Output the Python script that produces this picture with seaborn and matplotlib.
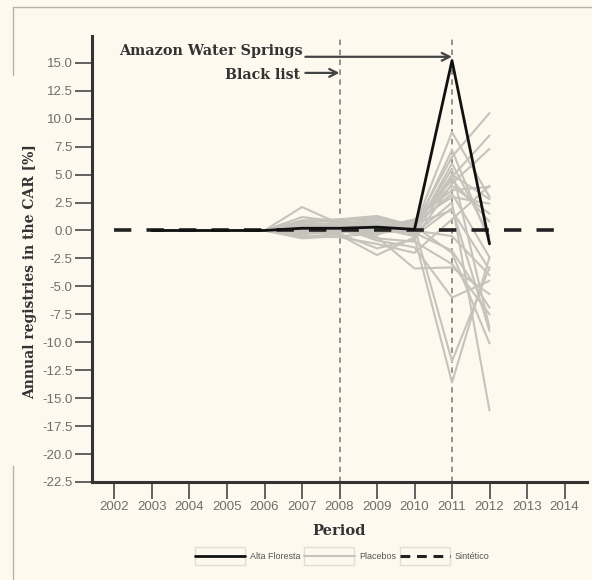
import numpy as np
import pandas as pd
import seaborn as sns
import matplotlib.pyplot as plt
from matplotlib.lines import Line2D
from matplotlib.patches import Rectangle

# ---- data -----------------------------------------------------------------
years_all = list(range(2002, 2015))
synthetic = [0.0] * len(years_all)

alta_years = list(range(2003, 2013))
alta_values = [0.0, 0.0, 0.0, 0.0, 0.2, 0.2, 0.3, 0.1, 15.2, -1.2]

placebo_years = list(range(2003, 2013))
placebo_start = [0.0, 0.0, 0.0, 0.0]          # 2003-2006
placebo_tail = [                               # 2007-2012
    [2.1, 0.6, 0.4, 0.3, 8.8, 3.0],
    [0.9, 1.0, 1.3, 0.4, 6.6, 10.5],
    [0.5, 0.4, 1.0, -0.4, 4.8, 8.5],
    [-0.6, -0.3, -1.6, -0.8, 4.2, 7.3],
    [0.3, 0.7, 0.2, 1.0, 3.6, 3.9],
    [-0.3, 0.2, -0.6, -3.4, -3.3, -5.7],
    [0.6, -0.4, -2.2, -0.6, -13.6, -2.4],
    [0.2, 0.5, 0.5, -0.3, 2.5, -16.1],
    [-0.7, -0.5, -0.3, 0.4, -2.0, -10.1],
    [0.4, 0.1, 0.8, 0.6, 1.8, -3.5],
    [1.2, 0.8, 0.6, 0.2, 5.5, -8.7],
    [0.1, -0.2, 0.3, 0.8, 3.0, 2.4],
    [-0.4, 0.3, -0.9, -1.5, -6.0, -4.5],
    [0.7, 0.9, 1.1, 0.1, 7.2, -1.0],
    [-0.2, -0.1, 0.0, -0.2, -1.8, -6.9],
    [0.3, 0.2, -0.4, 0.9, 4.0, 1.5],
    [0.0, 0.4, 0.6, 0.3, -11.7, -3.3],
    [-0.5, -0.6, -1.2, -2.0, 1.0, 4.0],
    [0.8, 0.3, 0.2, -0.1, 6.0, -0.5],
    [0.2, 0.6, 0.9, 0.5, 3.3, -2.4],
    [-0.1, 0.0, -0.7, -1.0, -3.0, -7.5],
    [0.5, 0.7, 0.4, 0.7, 4.5, 0.8],
    [-0.3, -0.2, 0.2, -0.5, 2.0, -9.0],
    [0.4, 0.5, 1.2, 0.2, 5.0, 2.8],
    [0.1, 0.1, -0.2, 0.0, -0.5, -4.0],
]

event_years = [2008, 2011]
y_ticks = [15.0, 12.5, 10.0, 7.5, 5.0, 2.5, 0.0, -2.5, -5.0, -7.5, -10.0,
           -12.5, -15.0, -17.5, -20.0, -22.5]
y_tick_labels = [f"{v:.1f}" for v in y_ticks]

# ---- frames ---------------------------------------------------------------
placebo_df = pd.DataFrame(
    [(i, y, v) for i, tail in enumerate(placebo_tail)
     for y, v in zip(placebo_years, placebo_start + tail)],
    columns=["unit", "year", "value"])
alta_df = pd.DataFrame({"year": alta_years, "value": alta_values})
synth_df = pd.DataFrame({"year": years_all, "value": synthetic})

# ---- style ----------------------------------------------------------------
BG = "#fdf9ef"
DARK = "#333333"
GRAY = "#c5c3bc"
sns.set_theme(style="white", rc={"figure.facecolor": BG, "axes.facecolor": BG,
                                 "savefig.facecolor": BG})
plt.rcParams["font.family"] = ["Liberation Sans", "DejaVu Sans"]

fig = plt.figure(figsize=(5.92, 5.80), dpi=100)
ax = fig.add_axes([92 / 592, 1 - 482 / 580, (587 - 92) / 592, (482 - 36) / 580])

sns.lineplot(data=placebo_df, x="year", y="value", units="unit", estimator=None,
             color=GRAY, lw=1.5, ax=ax, legend=False)
ax.axvline(event_years[0], color="#8a8a8a", lw=1.3, ls=(0, (3, 2.5)), zorder=1)
ax.axvline(event_years[1], color="#8a8a8a", lw=1.3, ls=(0, (3, 2.5)), zorder=1)
sns.lineplot(data=synth_df, x="year", y="value", color="#222222", lw=2.6,
             ax=ax, legend=False, zorder=4)
ax.lines[-1].set_dashes([4.8, 4.2])
sns.lineplot(data=alta_df, x="year", y="value", color="#111111", lw=2.0,
             ax=ax, legend=False, zorder=5)

ax.set_xlim(2001.4, 2014.6)
ax.set_ylim(-22.5, 17.4)
ax.set_xticks(years_all)
ax.set_xticklabels([str(y) for y in years_all])
ax.set_yticks(y_ticks)
ax.set_yticklabels(y_tick_labels)
ax.tick_params(axis="both", direction="out", length=12, width=1.3,
               color="#555555", labelcolor="#6e6e6e", labelsize=9.5, pad=2,
               left=True, bottom=True)
for side in ("top", "right"):
    ax.spines[side].set_visible(False)
for side in ("left", "bottom"):
    ax.spines[side].set_color(DARK)
    ax.spines[side].set_linewidth(2.2)

label_font = dict(family=["DejaVu Serif"], weight="bold", color=DARK)
ax.set_xlabel("Period", fontsize=10.5, **label_font)
ax.set_ylabel("Annual registries in the CAR [%]", fontsize=10, **label_font)
ax.xaxis.set_label_coords(0.5, -(531 - 482) / 446, transform=ax.transAxes)
ax.xaxis.label.set_va("center")
ax.yaxis.set_label_coords((30 - 92) / 495, (482 - 272) / 446)
ax.yaxis.label.set_va("center")

# event annotations
ax.text(2007.03, 16.05, "Amazon Water Springs", ha="right", va="center",
        fontsize=10.4, **label_font)
ax.text(2006.95, 13.9, "Black list", ha="right", va="center",
        fontsize=10.2, **label_font)
arrow = dict(arrowstyle="->", color="#444444", lw=1.6, shrinkA=0, shrinkB=0,
             mutation_scale=14)
ax.annotate("", xy=(2011, 15.54), xytext=(2007.09, 15.54), arrowprops=arrow)
ax.annotate("", xy=(2008, 14.1), xytext=(2007.09, 14.1), arrowprops=arrow)

# legend
handles = [Line2D([], [], color="#111111", lw=2.0),
           Line2D([], [], color=GRAY, lw=1.5),
           Line2D([], [], color="#222222", lw=2.2, dashes=[3.2, 2.2])]
leg = fig.legend(handles, ["Alta Floresta", "Placebos", "Sintético"],
                 loc="center", bbox_to_anchor=(0.578, 0.041), ncol=3,
                 frameon=False, fontsize=6.5, handlelength=5.6,
                 handletextpad=0.5, columnspacing=0.4, labelcolor="#555555")

fig.canvas.draw()
renderer = fig.canvas.get_renderer()
for h in leg.legend_handles:
    bb = h.get_window_extent(renderer)
    cx, cy = (bb.x0 + bb.x1) / 2, (bb.y0 + bb.y1) / 2
    fig.add_artist(Rectangle((cx - 25, cy - 9), 50, 18, transform=None,
                             fill=False, edgecolor="#e2ded3", lw=1.0))

# page frame
frame = dict(color="#b8b3a8", lw=1.0, transform=fig.transFigure)
fig.add_artist(Line2D([13 / 592, 1], [1 - 7 / 580, 1 - 7 / 580], **frame))
fig.add_artist(Line2D([13 / 592, 13 / 592], [1 - 7 / 580, 1 - 75 / 580], **frame))
fig.add_artist(Line2D([13 / 592, 13 / 592], [1 - 466 / 580, 0], **frame))

fig.savefig("out.png", dpi=100)
